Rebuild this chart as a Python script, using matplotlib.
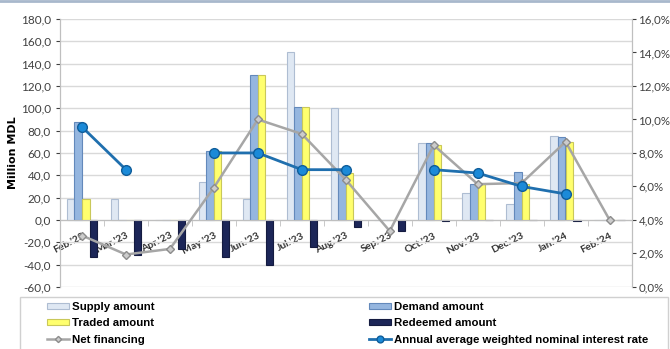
import numpy as np
import matplotlib
matplotlib.use("Agg")
import matplotlib.pyplot as plt
from matplotlib.ticker import FuncFormatter
from matplotlib.patches import Rectangle

months = ["Feb.'23", "Mar.'23", "Apr.'23", "May '23", "Jun.'23", "Jul.'23", "Aug.'23",
          "Sep.'23", "Oct.'23", "Nov.'23", "Dec.'23", "Jan.'24", "Feb.'24"]

# million MDL
supply = [19, 19, 0, 34, 19, 150, 100, 0, 69, 24, 14, 75, 0]
demand = [88, 0, 0, 62, 130, 101, 44, 0, 69, 32, 43, 74, 0]
traded = [19, 0, 0, 62, 130, 101, 42, 0, 67, 32, 32, 70, 0]
redeemed = [-33, -31, -26, -33, -40, -24, -6, -10, -1, -0.5, -0.5, -1, 0]
net_financing = [-14, -31, -26, 29, 90, 77, 36, -10, 67, 32, 33, 70, 0]

# percent, right axis
interest_rate = [9.55, 7.0, np.nan, 8.0, 8.0, 7.0, 7.0, np.nan, 7.0, 6.8, 6.0, 5.55, np.nan]

plt.rcParams['font.family'] = ['Lato', 'DejaVu Sans']

fig = plt.figure(figsize=(6.7, 3.49), dpi=100)
ax = fig.add_axes([0.0896, 0.178, 0.853, 0.7676])
ax2 = ax.twinx()

x = np.arange(len(months))
w = 0.17
series = [
    (supply, "Supply amount", "#dfe8f3", "#aebdd2"),
    (demand, "Demand amount", "#95b6df", "#6389bb"),
    (traded, "Traded amount", "#ffff6e", "#c9c85a"),
    (redeemed, "Redeemed amount", "#1c2658", "#141b40"),
]
handles = []
for k, (vals, name, fc, ec) in enumerate(series):
    b = ax.bar(x + (k - 1.5) * 0.175, vals, w, color=fc, edgecolor=ec,
               linewidth=0.8, label=name, zorder=2)
    handles.append(b)

net_line, = ax.plot(x, net_financing, color="#a6a6a6", lw=1.8, marker="D", ms=4.5,
                    mfc="#cccccc", mec="#8c8c8c", label="Net financing", zorder=4)

rate_line, = ax2.plot(x, interest_rate, color="#1f6fae", lw=2, marker="o", ms=7,
                      mfc="#1b8ad8", mec="#0f5d9a",
                      label="Annual average weighted nominal interest rate", zorder=5)

ax.set_xlim(-0.5, len(months) - 0.5)
ax.set_ylim(-60, 180)
ax.set_yticks(np.arange(-60, 181, 20))
ax.yaxis.set_major_formatter(FuncFormatter(lambda v, p: f"{v:.1f}".replace(".", ",")))
ax2.set_ylim(0, 16)
ax2.set_yticks(np.arange(0, 17, 2))
ax2.yaxis.set_major_formatter(FuncFormatter(lambda v, p: f"{v:.1f}%".replace(".", ",")))

ax.grid(axis="y", color="#d9d9d9", lw=1, zorder=0)
ax.set_axisbelow(True)
ax.set_ylabel("Million MDL", fontsize=8, fontweight="bold", family="DejaVu Sans", labelpad=2)

ax.spines["bottom"].set_position(("data", 0))
ax.spines["bottom"].set_color("#bfbfbf")
ax.spines["top"].set_visible(False)
ax2.spines["top"].set_visible(False)
ax2.spines["bottom"].set_visible(False)
for a in (ax, ax2):
    a.spines["left"].set_color("#bfbfbf")
    a.spines["right"].set_color("#bfbfbf")

ax.set_xticks(x)
ax.set_xticklabels(months, rotation=27, ha="right", rotation_mode="anchor",
                   fontsize=7.5, fontweight="bold", color="#333333")
ax.set_xticks(x[:-1] + 0.5, minor=True)
ax.tick_params(axis="x", which="major", length=0, pad=8)
ax.tick_params(axis="x", which="minor", length=4, color="#bfbfbf")
ax.tick_params(axis="y", labelsize=8.5, colors="#404040", length=3)
ax2.tick_params(axis="y", labelsize=8.3, colors="#404040", length=3, pad=2)

ax2.set_zorder(ax.get_zorder() + 1)
ax2.patch.set_visible(False)

# legend box across the bottom, entries in two columns
fig.add_artist(Rectangle((20 / 670, -0.01), 648 / 670, 1 - 297 / 349 + 0.01,
                         transform=fig.transFigure, fill=False, edgecolor="#d0d0d0", lw=1))
leg_kw = dict(loc="upper left", prop={"family": "Liberation Sans", "weight": "bold", "size": 8.2},
              frameon=False, handlelength=1.9, handleheight=0.4, handletextpad=0.3,
              labelspacing=0.55, markerscale=0.7, borderpad=0, borderaxespad=0)
col1 = [handles[0], handles[2], net_line]
col2 = [handles[1], handles[3], rate_line]
fig.legend(col1, [h.get_label() for h in col1], bbox_to_anchor=(47 / 670, 1 - 302 / 349), **leg_kw)
fig.legend(col2, [h.get_label() for h in col2], bbox_to_anchor=(369 / 670, 1 - 302 / 349), **leg_kw)

fig.add_artist(plt.Line2D([0, 1], [0.997, 0.997], color="#a8b8cc", lw=2, transform=fig.transFigure))

fig.savefig("out.png", dpi=100)
